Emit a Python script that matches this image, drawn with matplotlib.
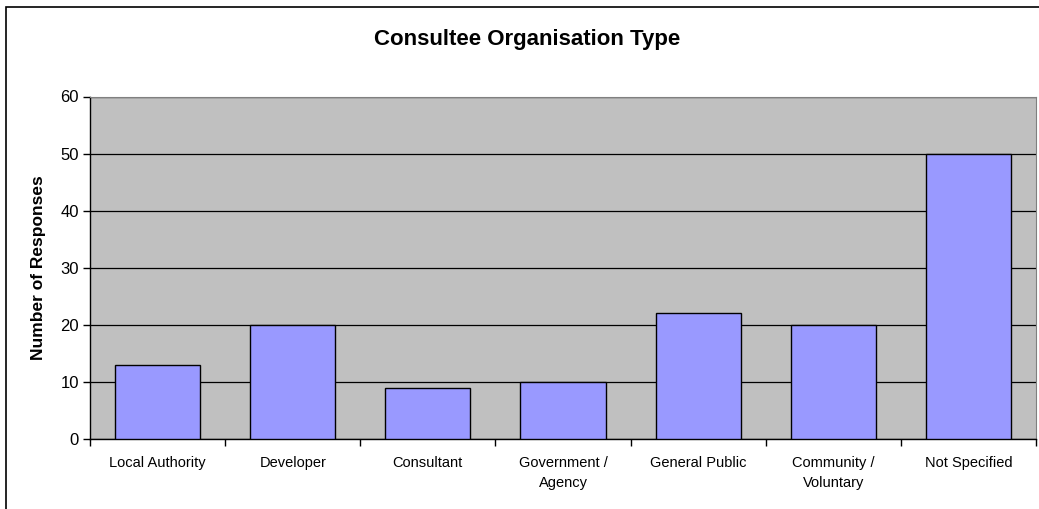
import numpy as np
import matplotlib.pyplot as plt
from matplotlib.patches import Rectangle

#dane
categories = ['Local Authority', 'Developer', 'Consultant', 'Government /\nAgency',
              'General Public', 'Community /\nVoluntary', 'Not Specified']
responses = [13, 20, 9, 10, 22, 20, 50]
y_ticks = [0, 10, 20, 30, 40, 50, 60]

plt.rcParams['font.family'] = ['Liberation Sans', 'DejaVu Sans']

fig = plt.figure(figsize=(10.39, 5.09), dpi=100)
W, H = 1039, 509
ax = fig.add_axes([90 / W, 70 / H, (1036 - 90) / W, (412.5 - 70) / H])

#ramka wokol wykresu
fig.patches.append(Rectangle((6 / W, -0.1), 1.2, (H - 7) / H + 0.1,
                             transform=fig.transFigure, fill=False,
                             edgecolor='black', linewidth=1.2))

x = np.arange(len(categories))
ax.set_facecolor('#C0C0C0')
ax.bar(x, responses, width=0.63, color='#9999FF', edgecolor='black',
       linewidth=1.0, zorder=3)

ax.set_xlim(-0.5, len(categories) - 0.5)
ax.set_ylim(0, 60)
ax.set_yticks(y_ticks)
ax.yaxis.grid(True, color='black', linewidth=0.9, zorder=1)
ax.set_axisbelow(True)

ax.set_xticks(x)
ax.set_xticklabels(categories, fontsize=10.5, linespacing=1.6)
ax.set_xticks(np.arange(len(categories) + 1) - 0.5, minor=True)
ax.tick_params(axis='x', which='major', length=0, pad=12)
ax.tick_params(axis='x', which='minor', length=5, width=1, direction='out')
ax.tick_params(axis='y', length=5, width=1, labelsize=12, pad=3)

for side in ['top', 'right']:
    ax.spines[side].set_color('#808080')
for side in ['left', 'bottom']:
    ax.spines[side].set_color('black')
    ax.spines[side].set_linewidth(1.0)

ax.set_ylabel('Number of Responses', fontsize=12.5, fontweight='bold')
ax.yaxis.set_label_coords(-0.047, 0.5)
fig.text(527 / W, 1 - 40 / H, 'Consultee Organisation Type', ha='center',
         va='center', fontsize=16, fontweight='bold')

fig.savefig('out.png', dpi=100)
